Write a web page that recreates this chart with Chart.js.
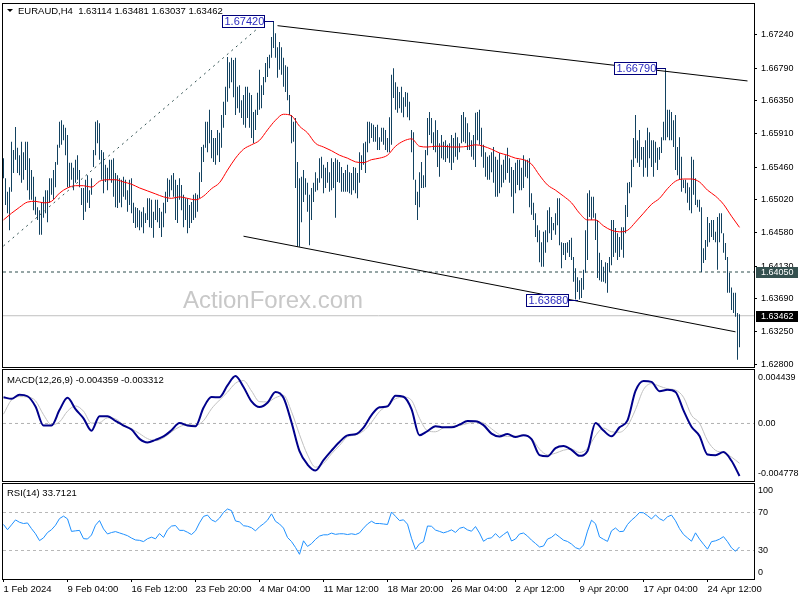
<!DOCTYPE html>
<html lang="en">
<head>
<meta charset="UTF-8">
<title>EURAUD H4</title>
<script src="https://cdn.jsdelivr.net/npm/chart.js@4.4.1/dist/chart.umd.min.js"></script>
<style>
  html, body { margin: 0; padding: 0; background: #fff; }
  .wrap { position: relative; width: 800px; height: 600px; overflow: hidden; }
  .wrap canvas { position: absolute; left: 0; }
</style>
</head>
<body>
<div class="wrap">
  <canvas id="priceChart" width="800" height="368" style="top:0;width:800px;height:368px"></canvas>
  <canvas id="macdChart" width="800" height="115" style="top:368px;width:800px;height:115px"></canvas>
  <canvas id="rsiChart" width="800" height="117" style="top:483px;width:800px;height:117px"></canvas>
</div>
<script>
// symbol and last bar (open, high, low, close)
const symbolName = 'EURAUD,H4';
const lastBar = [1.63114, 1.63481, 1.63037, 1.63462];

// H4 bars, highs and lows, one per bar
const barHigh = [
  1.6558,1.6531,1.6513,1.6519,1.6580,1.6569,1.6600,1.6572,1.6562,1.6580,
  1.6566,1.6580,1.6580,1.6558,1.6542,1.6533,1.6506,1.6492,1.6488,1.6499,
  1.6506,1.6515,1.6515,1.6531,1.6531,1.6542,1.6553,1.6576,1.6607,1.6609,
  1.6603,1.6599,1.6589,1.6552,1.6552,1.6545,1.6556,1.6562,1.6542,1.6518,
  1.6518,1.6529,1.6535,1.6515,1.6531,1.6569,1.6607,1.6609,1.6605,1.6569,
  1.6566,1.6549,1.6545,1.6556,1.6556,1.6558,1.6538,1.6535,1.6531,1.6529,
  1.6533,1.6529,1.6515,1.6529,1.6531,1.6498,1.6492,1.6491,1.6488,1.6486,
  1.6492,1.6484,1.6504,1.6504,1.6502,1.6486,1.6502,1.6502,1.6491,1.6486,
  1.6498,1.6513,1.6531,1.6529,1.6535,1.6538,1.6529,1.6522,1.6531,1.6522,
  1.6509,1.6504,1.6504,1.6495,1.6499,1.6509,1.6511,1.6509,1.6539,1.6573,
  1.6576,1.6607,1.6607,1.6623,1.6596,1.6585,1.6585,1.6596,1.6592,1.6616,
  1.6634,1.6654,1.6694,1.6687,1.6693,1.6690,1.6693,1.6654,1.6656,1.6636,
  1.6643,1.6654,1.6654,1.6646,1.6643,1.6620,1.6623,1.6646,1.6677,1.6656,
  1.6667,1.6686,1.6694,1.6697,1.6721,1.6742,1.6726,1.6707,1.6714,1.6707,
  1.6693,1.6683,1.6681,1.6643,1.6616,1.6607,1.6612,1.6553,1.6531,1.6533,
  1.6542,1.6531,1.6525,1.6509,1.6518,1.6525,1.6539,1.6531,1.6558,1.6560,
  1.6549,1.6545,1.6553,1.6539,1.6558,1.6553,1.6558,1.6556,1.6553,1.6546,
  1.6538,1.6542,1.6549,1.6539,1.6538,1.6546,1.6545,1.6538,1.6566,1.6562,
  1.6578,1.6580,1.6607,1.6607,1.6605,1.6603,1.6600,1.6603,1.6586,1.6599,
  1.6599,1.6596,1.6585,1.6613,1.6670,1.6679,1.6660,1.6654,1.6647,1.6654,
  1.6640,1.6647,1.6646,1.6634,1.6596,1.6593,1.6529,1.6513,1.6539,1.6553,
  1.6535,1.6569,1.6612,1.6620,1.6612,1.6593,1.6609,1.6596,1.6578,1.6589,
  1.6580,1.6582,1.6576,1.6578,1.6589,1.6585,1.6592,1.6586,1.6578,1.6616,
  1.6620,1.6613,1.6605,1.6593,1.6582,1.6589,1.6619,1.6620,1.6623,1.6599,
  1.6576,1.6566,1.6560,1.6562,1.6566,1.6573,1.6560,1.6556,1.6565,1.6549,
  1.6556,1.6562,1.6572,1.6558,1.6546,1.6542,1.6552,1.6556,1.6556,1.6545,
  1.6562,1.6556,1.6556,1.6558,1.6511,1.6498,1.6484,1.6468,1.6461,1.6445,
  1.6459,1.6461,1.6488,1.6492,1.6479,1.6471,1.6484,1.6504,1.6504,1.6445,
  1.6444,1.6444,1.6445,1.6448,1.6451,1.6425,1.6410,1.6398,1.6394,1.6397,
  1.6408,1.6461,1.6511,1.6515,1.6506,1.6506,1.6484,1.6475,1.6431,1.6421,
  1.6412,1.6418,1.6417,1.6425,1.6475,1.6475,1.6464,1.6457,1.6452,1.6465,
  1.6465,1.6495,1.6525,1.6526,1.6556,1.6585,1.6616,1.6582,1.6596,1.6573,
  1.6573,1.6582,1.6599,1.6593,1.6582,1.6582,1.6580,1.6572,1.6573,1.6586,
  1.6607,1.6679,1.6623,1.6623,1.6620,1.6609,1.6616,1.6573,1.6586,1.6560,
  1.6529,1.6529,1.6525,1.6519,1.6560,1.6556,1.6531,1.6502,1.6502,1.6492,
  1.6437,1.6448,1.6479,1.6471,1.6475,1.6475,1.6459,1.6479,1.6484,1.6484,
  1.6457,1.6444,1.6425,1.6404,1.6384,1.6377,1.6377,1.6350,1.63481
];
const barLow = [
  1.6531,1.6495,1.6484,1.6461,1.6513,1.6538,1.6556,1.6538,1.6535,1.6525,
  1.6529,1.6542,1.6515,1.6502,1.6502,1.6488,1.6482,1.6475,1.6455,1.6455,
  1.6478,1.6484,1.6472,1.6498,1.6509,1.6502,1.6519,1.6549,1.6572,1.6576,
  1.6582,1.6562,1.6519,1.6519,1.6529,1.6515,1.6525,1.6529,1.6519,1.6495,
  1.6475,1.6486,1.6498,1.6491,1.6509,1.6546,1.6562,1.6578,1.6556,1.6529,
  1.6511,1.6526,1.6515,1.6529,1.6525,1.6506,1.6492,1.6491,1.6498,1.6492,
  1.6506,1.6502,1.6486,1.6495,1.6484,1.6471,1.6464,1.6465,1.6461,1.6465,
  1.6457,1.6471,1.6475,1.6465,1.6464,1.6451,1.6475,1.6472,1.6464,1.6452,
  1.6465,1.6484,1.6499,1.6506,1.6515,1.6506,1.6475,1.6471,1.6502,1.6488,
  1.6465,1.6475,1.6457,1.6464,1.6471,1.6475,1.6478,1.6486,1.6504,1.6526,
  1.6553,1.6572,1.6566,1.6578,1.6558,1.6553,1.6549,1.6562,1.6553,1.6572,
  1.6599,1.6616,1.6634,1.6652,1.6660,1.6640,1.6616,1.6625,1.6619,1.6612,
  1.6603,1.6599,1.6612,1.6599,1.6585,1.6578,1.6596,1.6616,1.6623,1.6625,
  1.6643,1.6660,1.6667,1.6679,1.6693,1.6706,1.6693,1.6666,1.6677,1.6670,
  1.6654,1.6647,1.6636,1.6616,1.6578,1.6580,1.6518,1.6439,1.6439,1.6472,
  1.6499,1.6509,1.6486,1.6441,1.6475,1.6499,1.6513,1.6515,1.6525,1.6531,
  1.6511,1.6518,1.6525,1.6513,1.6515,1.6518,1.6478,1.6526,1.6525,1.6513,
  1.6513,1.6513,1.6513,1.6511,1.6509,1.6515,1.6511,1.6504,1.6525,1.6542,
  1.6549,1.6538,1.6566,1.6578,1.6585,1.6580,1.6580,1.6569,1.6569,1.6580,
  1.6576,1.6569,1.6566,1.6566,1.6576,1.6639,1.6623,1.6619,1.6625,1.6619,
  1.6613,1.6627,1.6613,1.6609,1.6566,1.6529,1.6495,1.6475,1.6492,1.6518,
  1.6518,1.6519,1.6562,1.6589,1.6578,1.6569,1.6566,1.6546,1.6533,1.6558,
  1.6556,1.6553,1.6558,1.6552,1.6542,1.6552,1.6560,1.6556,1.6566,1.6578,
  1.6580,1.6578,1.6569,1.6569,1.6560,1.6556,1.6546,1.6582,1.6576,1.6560,
  1.6545,1.6533,1.6529,1.6529,1.6539,1.6525,1.6506,1.6506,1.6511,1.6519,
  1.6525,1.6529,1.6538,1.6525,1.6506,1.6484,1.6511,1.6522,1.6515,1.6515,
  1.6518,1.6533,1.6531,1.6492,1.6482,1.6475,1.6452,1.6445,1.6418,1.6412,
  1.6412,1.6431,1.6445,1.6457,1.6448,1.6461,1.6455,1.6468,1.6441,1.6410,
  1.6428,1.6421,1.6431,1.6425,1.6421,1.6392,1.6368,1.6378,1.6368,1.6370,
  1.6381,1.6404,1.6421,1.6479,1.6475,1.6478,1.6448,1.6397,1.6394,1.6392,
  1.6392,1.6390,1.6377,1.6405,1.6414,1.6425,1.6431,1.6421,1.6425,1.6435,
  1.6424,1.6457,1.6479,1.6511,1.6519,1.6546,1.6558,1.6552,1.6546,1.6556,
  1.6533,1.6545,1.6533,1.6558,1.6546,1.6533,1.6552,1.6542,1.6556,1.6565,
  1.6582,1.6582,1.6586,1.6582,1.6582,1.6573,1.6542,1.6535,1.6529,1.6513,
  1.6518,1.6511,1.6498,1.6488,1.6484,1.6509,1.6495,1.6492,1.6486,1.6405,
  1.6417,1.6421,1.6439,1.6445,1.6452,1.6448,1.6445,1.6408,1.6445,1.6457,
  1.6431,1.6421,1.6377,1.6377,1.6354,1.6350,1.6345,1.6287,1.63037
];

// red moving average, read every 4th bar
const maStep = 4;
const maValues = [
  1.6475,1.6484,1.6492,1.6499,1.6500,1.6498,1.6500,1.6511,1.6518,1.6521,
  1.6521,1.6519,1.6527,1.6529,1.6529,1.6526,1.6523,1.6518,1.6514,1.6510,
  1.6506,1.6504,1.6506,1.6504,1.6502,1.6507,1.6517,1.6525,1.6542,1.6558,
  1.6570,1.6576,1.6582,1.6596,1.6609,1.6617,1.6615,1.6601,1.6592,1.6578,
  1.6573,1.6568,1.6562,1.6558,1.6553,1.6552,1.6556,1.6558,1.6562,1.6574,
  1.6581,1.6584,1.6574,1.6573,1.6574,1.6574,1.6573,1.6573,1.6574,1.6576,
  1.6574,1.6570,1.6565,1.6562,1.6558,1.6556,1.6550,1.6535,1.6522,1.6515,
  1.6507,1.6498,1.6484,1.6475,1.6475,1.6467,1.6461,1.6459,1.6461,1.6472,
  1.6484,1.6496,1.6504,1.6517,1.6527,1.6530,1.6530,1.6526,1.6515,1.6507,
  1.6496,1.6480,1.6465
];

// MACD(12,26,9) main and signal, read every 4th bar
const macdStep = 4;
const macdMain = [
  0.00218,0.00205,0.00239,0.00226,0.00141,-0.00017,-0.00017,0.00111,0.00213,0.00119,
  0.00043,-0.00060,0.00060,0.00060,0.00021,-0.00017,-0.00051,-0.00128,-0.00158,-0.00136,
  -0.00108,-0.00057,0.00003,-0.00017,-0.00023,0.00130,0.00219,0.00218,0.00316,0.00394,
  0.00303,0.00183,0.00136,0.00172,0.00262,0.00213,0.00009,-0.00230,-0.00341,-0.00391,
  -0.00305,-0.00226,-0.00154,-0.00099,-0.00090,-0.00034,0.00070,0.00134,0.00142,0.00230,
  0.00222,0.00119,-0.00098,-0.00063,-0.00023,-0.00032,-0.00032,-0.00010,0.00020,0.00019,
  -0.00014,-0.00084,-0.00108,-0.00088,-0.00113,-0.00098,-0.00130,-0.00263,-0.00273,-0.00205,
  -0.00188,-0.00219,-0.00269,-0.00228,0.00003,-0.00059,-0.00107,-0.00032,0.00026,0.00270,
  0.00353,0.00345,0.00268,0.00280,0.00262,0.00109,-0.00027,-0.00104,-0.00258,-0.00264,
  -0.00238,-0.00310,-0.00436
];
const macdSignal = [
  0.00077,0.00196,0.00223,0.00220,0.00188,0.00073,-0.00010,0.00013,0.00102,0.00145,
  0.00102,0.00003,0.00006,0.00047,0.00038,-0.00010,-0.00043,-0.00084,-0.00126,-0.00143,
  -0.00119,-0.00070,-0.00028,-0.00009,-0.00015,0.00023,0.00122,0.00194,0.00260,0.00334,
  0.00356,0.00270,0.00181,0.00179,0.00214,0.00233,0.00098,-0.00092,-0.00261,-0.00363,
  -0.00331,-0.00252,-0.00183,-0.00111,-0.00096,-0.00062,0.00010,0.00099,0.00151,0.00205,
  0.00218,0.00192,0.00043,-0.00060,-0.00069,-0.00036,-0.00023,-0.00017,0.00000,0.00013,
  0.00004,-0.00044,-0.00092,-0.00108,-0.00104,-0.00095,-0.00124,-0.00213,-0.00260,-0.00247,
  -0.00222,-0.00213,-0.00241,-0.00207,-0.00102,-0.00038,-0.00069,-0.00073,-0.00020,0.00115,
  0.00281,0.00331,0.00310,0.00288,0.00277,0.00218,0.00068,0.00003,-0.00143,-0.00223,
  -0.00242,-0.00279,-0.00331
];
const macdLast = [-0.004359, -0.003312];
const macdMax = 0.004439;
const macdMin = -0.004778;

// RSI(14), read every 2nd bar
const rsiStep = 2;
const rsiValues = [
  57.4,51.9,57.0,62.2,59.7,58.4,59.0,53.0,47.6,40.4,
  43.3,48.9,51.9,56.6,63.6,66.2,63.3,50.1,50.7,51.2,
  42.5,42.1,46.3,56.6,61.5,52.7,47.4,48.9,49.9,48.5,
  47.1,45.6,43.1,41.1,40.7,39.4,42.4,44.0,42.3,47.8,
  43.8,51.8,55.7,56.3,51.2,51.2,49.2,46.8,50.7,59.1,
  65.9,67.3,62.2,60.3,64.1,70.1,73.7,72.0,61.1,60.1,
  56.1,55.5,54.0,50.7,55.0,58.1,61.9,68.6,60.7,57.9,
  53.6,43.7,39.4,33.2,26.0,40.2,34.3,37.2,41.7,45.2,
  46.5,46.5,48.3,47.0,47.6,47.6,46.8,47.6,46.8,48.5,
  53.5,57.9,60.8,58.4,58.4,57.9,57.4,70.5,66.0,61.5,
  62.3,57.7,42.9,31.2,37.1,39.3,55.8,55.5,51.5,50.1,
  48.6,49.9,51.7,49.0,53.4,54.5,51.7,50.3,55.2,48.4,
  39.7,42.6,43.3,47.8,43.5,46.8,49.9,40.0,42.1,47.4,
  48.4,45.2,40.9,37.4,33.7,34.7,42.0,43.8,47.4,44.2,
  40.9,39.5,36.8,33.0,31.4,35.7,50.4,61.9,58.2,44.3,
  41.8,39.6,50.7,53.7,49.9,50.2,57.4,62.0,65.5,70.0,
  69.7,66.7,63.2,67.5,63.5,61.4,65.5,67.3,61.3,53.0,
  46.9,43.3,39.8,48.6,42.0,36.6,31.4,39.3,40.2,41.9,
  44.6,39.3,32.8,29.2,33.7121
];
const rsiLevels = [70, 30];
const rsiRange = [0, 100];

// axis ticks
const priceTicks = [1.62800, 1.63250, 1.63690, 1.64130, 1.64580, 1.65020, 1.65460, 1.65910, 1.66350, 1.66790, 1.67240];
const timeTickBars = [0, 32, 64, 96, 128, 160, 192, 224, 256, 288, 320, 352];
const timeTickLabels = ['1 Feb 2024', '9 Feb 04:00', '16 Feb 12:00', '23 Feb 20:00', '4 Mar 04:00', '11 Mar 12:00',
  '18 Mar 20:00', '26 Mar 04:00', '2 Apr 12:00', '9 Apr 20:00', '17 Apr 04:00', '24 Apr 12:00'];

// marked swing points and drawn lines (bar index, price)
const markBars = [135, 331, 287];
const markPrices = [1.67420, 1.66790, 1.63680];
const supportLevel = 1.64050;
const upperChannel = [{ x: 137, y: 1.67361 }, { x: 372, y: 1.66618 }];
const lowerChannel = [{ x: 120, y: 1.64531 }, { x: 366, y: 1.63246 }];
const riseLine = [{ x: 0, y: 1.6440 }, { x: 131, y: 1.67414 }];

// ---- drawing ----
const FONT = '"Liberation Sans", Arial, sans-serif';
const AXIS_FONT = '9px ' + FONT;
Chart.defaults.font.family = FONT;
Chart.defaults.font.size = 9.5;
Chart.defaults.color = '#000';

const X_MIN = -0.25, X_MAX = 375.25;
const flat = v => [{ x: X_MIN, y: v }, { x: X_MAX, y: v }];
const sampled = (vals, step) => vals.map((v, i) => ({ x: i * step, y: v }));

function noPad(s) { s.paddingTop = 0; s.paddingBottom = 0; s.paddingLeft = 0; s.paddingRight = 0; }

function timeAxis(show) {
  return {
    type: 'linear', min: X_MIN, max: X_MAX, offset: false, display: show,
    afterBuildTicks: s => { s.ticks = timeTickBars.map(v => ({ value: v })); },
    afterFit: s => { if (show) s.height = 21; noPad(s); },
    grid: { drawOnChartArea: false, drawTicks: true, tickLength: 3, color: '#000', tickColor: '#000', offset: false },
    border: { display: false },
    ticks: { autoSkip: false, maxRotation: 0, minRotation: 0, align: 'start', padding: 2,
      callback: v => timeTickLabels[timeTickBars.indexOf(v)] }
  };
}

function valueAxis(min, max, ticks, fmt, tickLength, padding) {
  return {
    position: 'right', min, max,
    afterBuildTicks: s => { s.ticks = ticks.map(v => ({ value: v })); },
    afterFit: s => { s.width = 46; noPad(s); },
    grid: { drawOnChartArea: false, drawTicks: tickLength > 0, tickLength, color: '#000', tickColor: '#000' },
    border: { display: false },
    ticks: { autoSkip: false, padding, callback: fmt, font: { size: 9 } }
  };
}

function drawFrame(ctx, a) {
  ctx.strokeStyle = '#000';
  ctx.lineWidth = 1;
  ctx.setLineDash([]);
  ctx.strokeRect(a.left - 0.5, a.top - 0.5, a.right - a.left + 1, a.bottom - a.top + 1);
}

const line = (data, color, extra) => Object.assign({
  type: 'line', data, borderColor: color, borderWidth: 1, pointRadius: 0, fill: false
}, extra || {});

// price panel
const pricePanel = {
  id: 'pricePanel',
  beforeDatasetsDraw(chart) {
    const ctx = chart.ctx;
    ctx.save();
    ctx.font = '24px ' + FONT;
    ctx.fillStyle = '#c8c8c8';
    ctx.fillText('ActionForex.com', 183, 308);
    ctx.restore();
  },
  afterDatasetsDraw(chart) {
    const { ctx, scales: { x, y } } = chart;
    ctx.save();
    ctx.font = '11px ' + FONT;
    ctx.textBaseline = 'middle';
    ctx.lineWidth = 1;
    markBars.forEach((bar, i) => {
      const px = Math.round(x.getPixelForValue(bar));
      const py = Math.round(y.getPixelForValue(markPrices[i])) + 0.5;
      const right = px - 10, left = right - 42;
      ctx.strokeStyle = '#00007a';
      ctx.beginPath(); ctx.moveTo(right, py); ctx.lineTo(px, py); ctx.stroke();
      ctx.fillStyle = '#fff';
      ctx.fillRect(left, py - 6.5, 42, 13);
      ctx.strokeRect(left + 0.5, py - 6, 42, 12);
      ctx.fillStyle = '#2a2ac0';
      ctx.fillText(markPrices[i].toFixed(5), left + 2.5, py + 0.5);
    });
    ctx.restore();
  },
  afterDraw(chart) {
    const { ctx, chartArea: a, scales: { y } } = chart;
    ctx.save();
    drawFrame(ctx, a);
    ctx.font = AXIS_FONT;
    ctx.textBaseline = 'middle';
    [[supportLevel, '#34504f'], [lastBar[3], '#000']].forEach(([v, bg]) => {
      const py = Math.round(y.getPixelForValue(v));
      ctx.fillStyle = bg;
      ctx.fillRect(a.right + 2, py - 5, 42, 11);
      ctx.fillStyle = '#fff';
      ctx.fillText(v.toFixed(5), a.right + 7, py + 0.5);
    });
    ctx.fillStyle = '#000';
    ctx.font = '9.5px ' + FONT;
    ctx.beginPath(); ctx.moveTo(7, 9); ctx.lineTo(13, 9); ctx.lineTo(10, 12); ctx.closePath(); ctx.fill();
    ctx.fillText(symbolName + '  ' + lastBar.map(v => v.toFixed(5)).join(' '), 18, 11);
    ctx.restore();
  }
};

new Chart(document.getElementById('priceChart'), {
  type: 'bar',
  data: {
    datasets: [
      line(flat(lastBar[3]), '#c0c0c0', { order: 6 }),
      line(flat(supportLevel), '#2f4f4f', { order: 5, borderDash: [3, 3] }),
      {
        type: 'bar', order: 4,
        data: barHigh.map((h, i) => ({ x: i, y: [barLow[i], h] })),
        backgroundColor: '#134260', barThickness: 1, inflateAmount: 0, borderWidth: 0
      },
      line(sampled(maValues, maStep), '#ff0000', { order: 3, cubicInterpolationMode: 'monotone' }),
      line(upperChannel, '#000', { order: 2 }),
      line(lowerChannel, '#000', { order: 2 }),
      line(riseLine, '#2f4f4f', { order: 2, borderDash: [2, 4] })
    ]
  },
  options: {
    responsive: false, animation: false, devicePixelRatio: 1, events: [],
    layout: { padding: { top: 4, bottom: 1, left: 3, right: 0 } },
    plugins: { legend: { display: false }, tooltip: { enabled: false } },
    scales: {
      x: timeAxis(false),
      y: valueAxis(1.627731, 1.676522, priceTicks, v => v.toFixed(5), 3, 4)
    }
  },
  plugins: [pricePanel]
});

// MACD panel
const macdPanel = {
  id: 'macdPanel',
  afterDraw(chart) {
    const { ctx, chartArea: a } = chart;
    ctx.save();
    drawFrame(ctx, a);
    ctx.textBaseline = 'middle';
    ctx.fillStyle = '#000';
    ctx.font = '9.5px ' + FONT;
    ctx.fillText('MACD(12,26,9) ' + macdLast.map(v => v.toFixed(6)).join(' '), 7, a.top + 10);
    ctx.font = AXIS_FONT;
    ctx.fillText(macdMax.toFixed(6), a.right + 4, a.top + 8);
    ctx.fillText(macdMin.toFixed(6), a.right + 4, a.bottom - 7);
    ctx.restore();
  }
};

new Chart(document.getElementById('macdChart'), {
  type: 'line',
  data: {
    datasets: [
      line(flat(0), '#b0b0b0', { borderDash: [3, 3], order: 3 }),
      line(sampled(macdSignal, macdStep), '#c0c0c0', { order: 2, cubicInterpolationMode: 'monotone' }),
      line(sampled(macdMain, macdStep), '#00008b', { order: 1, borderWidth: 2, cubicInterpolationMode: 'monotone' })
    ]
  },
  options: {
    responsive: false, animation: false, devicePixelRatio: 1, events: [],
    layout: { padding: { top: 2, bottom: 2, left: 3, right: 0 } },
    plugins: { legend: { display: false }, tooltip: { enabled: false } },
    scales: {
      x: timeAxis(false),
      y: valueAxis(macdMin, macdMax, [0], v => v.toFixed(2), 0, 4)
    }
  },
  plugins: [macdPanel]
});

// RSI panel
const rsiPanel = {
  id: 'rsiPanel',
  afterDraw(chart) {
    const { ctx, chartArea: a } = chart;
    ctx.save();
    drawFrame(ctx, a);
    ctx.textBaseline = 'middle';
    ctx.fillStyle = '#000';
    ctx.font = '9.5px ' + FONT;
    ctx.fillText('RSI(14) ' + rsiValues[rsiValues.length - 1].toFixed(4), 7, a.top + 9);
    ctx.font = AXIS_FONT;
    ctx.fillText(String(rsiRange[1]), a.right + 4, a.top + 6.5);
    ctx.fillText(String(rsiRange[0]), a.right + 4, a.bottom - 6.5);
    ctx.restore();
  }
};

new Chart(document.getElementById('rsiChart'), {
  type: 'line',
  data: {
    datasets: [
      ...rsiLevels.map(v => line(flat(v), '#b8b8b8', { borderDash: [3, 3], order: 2 })),
      line(sampled(rsiValues, rsiStep), '#1e90ff', { order: 1 })
    ]
  },
  options: {
    responsive: false, animation: false, devicePixelRatio: 1, events: [],
    layout: { padding: { top: 1, bottom: 0, left: 3, right: 0 } },
    plugins: { legend: { display: false }, tooltip: { enabled: false } },
    scales: {
      x: timeAxis(true),
      y: valueAxis(rsiRange[0], rsiRange[1], rsiLevels, v => String(v), 0, 4)
    }
  },
  plugins: [rsiPanel]
});
</script>
</body>
</html>
